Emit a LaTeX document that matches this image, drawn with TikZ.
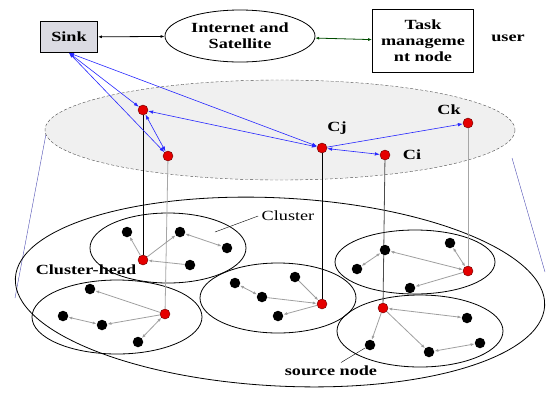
\documentclass[tikz,border=0pt]{standalone}
\usepackage{fontspec}
\setmainfont[FakeStretch=1.3]{Liberation Serif}
\usetikzlibrary{arrows.meta,shapes.geometric}

\begin{document}
\begin{tikzpicture}[x=1pt,y=-1pt,
    every node/.style={font=\fontsize{14}{16}\selectfont},
    bold/.style={font=\fontsize{14}{16}\selectfont\bfseries},
    head/.style={circle,draw=red!40!black,fill=red!90!black,inner sep=0pt,minimum size=10pt},
    src/.style={circle,fill=black,inner sep=0pt,minimum size=10.5pt},
    link/.style={gray!75,thick,{Latex[length=4pt,width=3pt]}-{Latex[length=4pt,width=3pt]}},
    tolink/.style={gray!75,thick,-{Latex[length=4pt,width=3pt]}},
    net/.style={blue!85,semithick,{Latex[length=5pt,width=3.5pt]}-{Latex[length=5pt,width=3.5pt]}},
    rim/.style={blue!40!gray,thin}]
      \useasboundingbox (0,0) rectangle (546,392);
      % cylinder
      \draw[rim] (46,134) -- (15,298);
      \draw[rim] (512,158) -- (545,272);
      \draw[thick,rotate around={-3:(280,292)}] (280,292) ellipse [x radius=265,y radius=94];
      \draw[gray!60!black,densely dashed,fill=gray!12] (280,130) ellipse [x radius=235,y radius=50];
      % clusters
      \draw[thick] (168,248) ellipse [x radius=78,y radius=35];
      \draw[thick] (117,317) ellipse [x radius=85,y radius=37];
      \draw[thick] (278,298) ellipse [x radius=78,y radius=35];
      \draw[thick] (415,262) ellipse [x radius=80,y radius=32];
      \draw[thick] (420,331) ellipse [x radius=83,y radius=36];
      % top
      \node[bold,draw,thick,fill=blue!12!gray!25,minimum width=57pt,minimum height=31pt] (sink) at (69,37) {Sink};
      \node[bold,draw,thick,ellipse,minimum width=150pt,minimum height=52pt,inner sep=0pt,align=center] (inet) at (240,36) {Internet and\\Satellite};
      \node[bold,draw,thick,minimum width=101pt,minimum height=63pt,inner sep=1pt,align=center] (task) at (423,41) {Task\\manageme\\nt node};
      \node[bold] (user) at (508,38) {user};
      \draw[thick,{Latex[length=4pt]}-{Latex[length=4pt]}] (sink) -- (inet);
      \draw[thick,green!30!black,{Latex[length=4pt]}-{Latex[length=4pt]}] (inet) -- (task);
      % upper layer heads
      \node[head] (a) at (143,110) {};
      \node[head] (b) at (168,156) {};
      \node[head] (cj) at (322,148) {};
      \node[head] (ci) at (385,155) {};
      \node[head] (ck) at (468,123) {};
      \node[bold] at (337,128) {Cj};
      \node[bold] at (412,155) {Ci};
      \node[bold] at (449,110) {Ck};
      % lower layer heads
      \node[head] (h1) at (143,260) {};
      \node[head] (h2) at (165,314) {};
      \node[head] (h3) at (322,304) {};
      \node[head] (h4) at (468,271) {};
      \node[head] (h5) at (383,308) {};
      \draw[thick] (a) -- (h1);
      \draw[gray!70,thick] (b) -- (h2);
      \draw[thick] (cj) -- (h3);
      \draw[gray!60!black,thick] (ci) -- (h5);
      \draw[gray!70,thick] (ck) -- (h4);
      \draw[net] (sink.south) -- (a);
      \draw[net] (sink.south) -- (b);
      \draw[net] (sink.south) -- (cj);
      \draw[net] (a) -- (b);
      \draw[net] (a) -- (cj);
      \draw[net] (cj) -- (ci);
      \draw[blue!85,semithick,-{Latex[length=5pt,width=3.5pt]}] (cj) -- (ck);
      % cluster 1
      \node[src] (n11) at (127,232) {};
      \node[src] (n12) at (180,232) {};
      \node[src] (n13) at (227,248) {};
      \node[src] (n14) at (190,265) {};
      \draw[tolink] (h1) -- (n11);
      \draw[tolink] (h1) -- (n12);
      \draw[link] (n12) -- (n13);
      \draw[tolink] (n14) -- (h1);
      % cluster 2
      \node[src] (n21) at (90,289) {};
      \node[src] (n22) at (63,316) {};
      \node[src] (n23) at (102,325) {};
      \node[src] (n24) at (138,342) {};
      \draw[tolink] (h2) -- (n21);
      \draw[link] (n22) -- (n23);
      \draw[tolink] (h2) -- (n23);
      \draw[link] (n24) -- (h2);
      % cluster 3
      \node[src] (n31) at (235,283) {};
      \node[src] (n32) at (262,297) {};
      \node[src] (n33) at (278,316) {};
      \node[src] (n34) at (295,277) {};
      \draw[link] (n31) -- (n32);
      \draw[tolink] (n32) -- (h3);
      \draw[tolink] (n34) -- (h3);
      \draw[tolink] (h3) -- (n33);
      % cluster 4
      \node[src] (n41) at (385,250) {};
      \node[src] (n42) at (357,269) {};
      \node[src] (n43) at (450,243) {};
      \node[src] (n44) at (410,288) {};
      \draw[link] (n42) -- (n41);
      \draw[link] (n41) -- (h4);
      \draw[link] (n43) -- (h4);
      \draw[tolink] (h4) -- (n44);
      % cluster 5
      \node[src] (n51) at (467,318) {};
      \node[src] (n52) at (370,345) {};
      \node[src] (n53) at (429,352) {};
      \node[src] (n54) at (480,343) {};
      \draw[link] (h5) -- (n51);
      \draw[tolink] (h5) -- (n52);
      \draw[tolink] (h5) -- (n53);
      \draw[link] (n53) -- (n54);
      % labels
      \node (cl) at (288,216) {Cluster};
      \coordinate (clp) at (215,232);
      \draw (cl.west) -- (clp);
      \node[bold] (clh) at (86,270) {Cluster-head};
      \node[bold] (sn) at (331,371) {source node};
      \draw (sn.north) ++(10,0) -- (n52);
\end{tikzpicture}
\end{document}
